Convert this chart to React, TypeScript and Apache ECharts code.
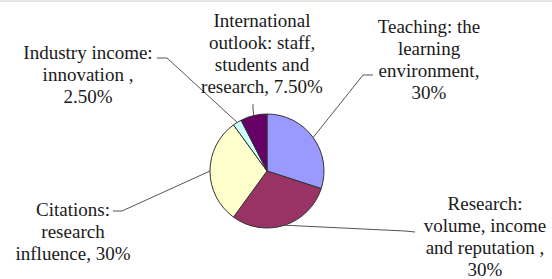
import React, { useEffect, useRef } from "react";
import * as echarts from "echarts";

// ---- data ----
const categories: string[] = [
  "Teaching: the\nlearning\nenvironment,",
  "Research:\nvolume, income\nand reputation ,",
  "Citations:\nresearch\ninfluence,",
  "Industry income:\ninnovation ,",
  "International\noutlook: staff,\nstudents and\nresearch,",
];
const shares: number[] = [30, 30, 30, 2.5, 7.5];
const shareLabels: string[] = ["30%", "30%", "30%", "2.50%", "7.50%"];
// join between name and share label: newline or space
const shareJoin: string[] = ["\n", "\n", " ", "\n", " "];

// ---- styles / layout (not data) ----
const sliceColors = ["#9999FF", "#993366", "#FFFFCC", "#CCFFFF", "#660066"];
const FONT = "Liberation Serif";
const CX = 267;
const CY = 171;
const R = 57;
// label block anchor (center x, top y)
const labelAnchor: number[][] = [
  [429, 15],
  [485, 192],
  [73, 198],
  [88, 41],
  [262, 9],
];
// leader line elbow and end points
const leaderPts: number[][][] = [
  [[363, 75], [373, 75]],
  [[405, 231], [415, 232]],
  [[122, 211], [113, 211]],
  [[167, 58], [157, 58]],
  [[253, 108], [253, 104]],
];

export default function App() {
  const ref = useRef<HTMLDivElement>(null);
  useEffect(() => {
    if (!ref.current) return;
    const chart = echarts.init(ref.current, undefined, { renderer: "svg" });
    const total = shares.reduce((a, b) => a + b, 0);
    const edgePoint = (i: number) => {
      let cum = 0;
      for (let k = 0; k < i; k++) cum += shares[k];
      const a = ((cum + shares[i] / 2) / total) * Math.PI * 2;
      return [CX + R * Math.sin(a), CY - R * Math.cos(a)];
    };
    const graphics: any[] = [
      {
        type: "rect",
        shape: { x: 0, y: 0, width: 552, height: 2 },
        style: { fill: "#e6e6e6" },
        silent: true,
      },
    ];
    categories.forEach((c, i) => {
      graphics.push({
        type: "polyline",
        shape: { points: [edgePoint(i), leaderPts[i][0], leaderPts[i][1]] },
        style: { stroke: "#555555", lineWidth: 1, fill: "none" },
        silent: true,
        z: 10,
      });
      graphics.push({
        type: "text",
        x: labelAnchor[i][0],
        y: labelAnchor[i][1],
        z: 10,
        style: {
          text: c + shareJoin[i] + shareLabels[i],
          fontFamily: FONT,
          fontSize: 19,
          lineHeight: 22,
          fill: "#1a1a1a",
          align: "center",
          verticalAlign: "top",
        },
        silent: true,
      });
    });
    chart.setOption({
      animation: false,
      backgroundColor: "#ffffff",
      graphic: graphics,
      series: [
        {
          type: "pie",
          center: [CX, CY],
          radius: R,
          startAngle: 90,
          clockwise: true,
          itemStyle: { borderColor: "#333333", borderWidth: 1 },
          label: { show: false },
          labelLine: { show: false },
          data: categories.map((c, i) => ({
            name: c,
            value: shares[i],
            itemStyle: { color: sliceColors[i] },
          })),
        },
      ],
    });
    return () => chart.dispose();
  }, []);
  return (
    <div
      ref={ref}
      style={{ position: "fixed", left: 0, top: 0, width: 552, height: 279 }}
    />
  );
}
